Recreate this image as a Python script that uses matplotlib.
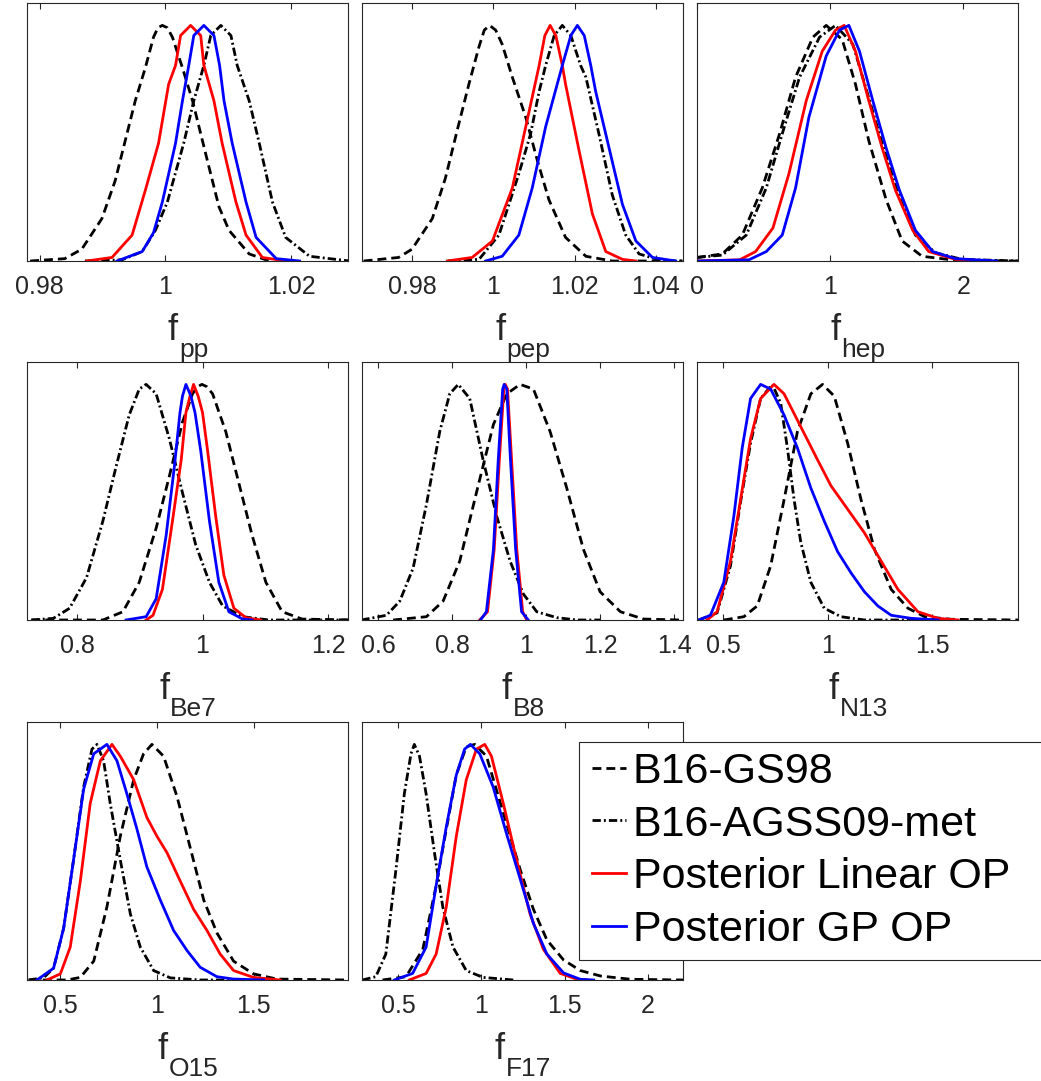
import matplotlib
matplotlib.use('Agg')
import matplotlib.pyplot as plt
from matplotlib.lines import Line2D
from matplotlib.patches import Rectangle
from matplotlib.ticker import FormatStrFormatter

plt.rcParams['font.family'] = ['Liberation Sans', 'DejaVu Sans']

# ---- f_pp ----
PP_GS98_X = [0.9785, 0.9840, 0.9867, 0.9899, 0.9920, 0.9952, 0.9968, 0.9981, 0.9988, 0.9995, 1.0003, 1.0011, 1.0027, 1.0043, 1.0069, 1.0085, 1.0101, 1.0133, 1.0165]
PP_GS98_Y = [0, 0.01, 0.05, 0.18, 0.34, 0.68, 0.82, 0.95, 0.99, 1.0, 0.99, 0.95, 0.82, 0.68, 0.40, 0.23, 0.13, 0.03, 0]
PP_AGS_X = [0.9872, 0.9931, 0.9963, 0.9984, 1.0003, 1.0029, 1.0045, 1.0061, 1.0072, 1.0088, 1.0104, 1.0114, 1.0133, 1.0149, 1.0170, 1.0191, 1.0229, 1.0293]
PP_AGS_Y = [0, 0.005, 0.04, 0.13, 0.25, 0.50, 0.68, 0.83, 0.957, 1.0, 0.957, 0.83, 0.68, 0.50, 0.25, 0.10, 0.02, 0]
PP_LIN_X = [0.9875, 0.9915, 0.9947, 0.9968, 0.9989, 1.0005, 1.0016, 1.0024, 1.0040, 1.0056, 1.0061, 1.0077, 1.0090, 1.0112, 1.0128, 1.0154, 1.0191]
PP_LIN_Y = [0, 0.015, 0.11, 0.30, 0.50, 0.75, 0.83, 0.957, 1.0, 0.957, 0.83, 0.68, 0.50, 0.25, 0.11, 0.015, 0]
PP_GP_X = [0.9923, 0.9963, 0.9981, 0.9995, 1.0016, 1.0027, 1.0037, 1.0045, 1.0061, 1.0077, 1.0086, 1.0093, 1.0106, 1.0128, 1.0144, 1.0176, 1.0213]
PP_GP_Y = [0, 0.04, 0.12, 0.25, 0.50, 0.68, 0.83, 0.957, 1.0, 0.957, 0.83, 0.68, 0.50, 0.25, 0.10, 0.01, 0]

# ---- f_pep ----
PEP_GS98_X = [0.9681, 0.9767, 0.9800, 0.9850, 0.9882, 0.9915, 0.9940, 0.9965, 0.9978, 0.9991, 1.0006, 1.0022, 1.0047, 1.0080, 1.0108, 1.0137, 1.0178, 1.0228, 1.0293, 1.0466]
PEP_GS98_Y = [0, 0.015, 0.05, 0.18, 0.35, 0.58, 0.75, 0.91, 0.98, 1.0, 0.98, 0.92, 0.78, 0.61, 0.43, 0.26, 0.10, 0.02, 0, 0]
PEP_AGS_X = [0.9887, 0.9965, 1.0014, 1.0063, 1.0092, 1.0113, 1.0129, 1.0150, 1.0170, 1.0191, 1.0215, 1.0228, 1.0260, 1.0293, 1.0326, 1.0359, 1.0417, 1.0466]
PEP_AGS_Y = [0, 0.007, 0.11, 0.37, 0.54, 0.72, 0.83, 0.957, 1.0, 0.957, 0.83, 0.78, 0.54, 0.28, 0.11, 0.03, 0, 0]
PEP_LIN_X = [0.9887, 0.9948, 0.9998, 1.0047, 1.0080, 1.0113, 1.0127, 1.0140, 1.0154, 1.0170, 1.0178, 1.0211, 1.0244, 1.0277, 1.0318, 1.0351]
PEP_LIN_Y = [0, 0.015, 0.085, 0.31, 0.57, 0.83, 0.957, 1.0, 0.957, 0.83, 0.75, 0.47, 0.20, 0.04, 0.007, 0]
PEP_GP_X = [0.9981, 1.0022, 1.0063, 1.0096, 1.0129, 1.0170, 1.0191, 1.0207, 1.0224, 1.0240, 1.0252, 1.0285, 1.0318, 1.0351, 1.0392, 1.0449]
PEP_GP_Y = [0, 0.02, 0.11, 0.31, 0.57, 0.83, 0.957, 1.0, 0.957, 0.83, 0.72, 0.48, 0.24, 0.085, 0.015, 0]

# ---- f_hep ----
HEP_GS98_X = [0.0, 0.19, 0.34, 0.49, 0.62, 0.74, 0.87, 0.97, 1.09, 1.19, 1.29, 1.42, 1.54, 1.69, 1.94, 2.41]
HEP_GS98_Y = [0.015, 0.03, 0.11, 0.31, 0.54, 0.78, 0.95, 1.0, 0.94, 0.75, 0.51, 0.26, 0.085, 0.02, 0.003, 0]
HEP_AGS_X = [0.0, 0.19, 0.37, 0.52, 0.64, 0.77, 0.92, 1.04, 1.17, 1.27, 1.39, 1.52, 1.64, 1.79, 1.99, 2.41]
HEP_AGS_Y = [0.015, 0.025, 0.11, 0.31, 0.54, 0.78, 0.95, 1.0, 0.92, 0.73, 0.50, 0.27, 0.11, 0.035, 0.007, 0]
HEP_LIN_X = [0.0, 0.32, 0.44, 0.57, 0.69, 0.82, 0.94, 1.04, 1.105, 1.19, 1.29, 1.39, 1.49, 1.62, 1.74, 1.94, 2.20]
HEP_LIN_Y = [0, 0.005, 0.04, 0.14, 0.37, 0.68, 0.89, 0.98, 1.0, 0.89, 0.68, 0.48, 0.30, 0.13, 0.04, 0.007, 0]
HEP_GP_X = [0.0, 0.39, 0.52, 0.64, 0.74, 0.84, 0.97, 1.07, 1.14, 1.22, 1.32, 1.42, 1.52, 1.64, 1.77, 1.94, 2.25]
HEP_GP_Y = [0, 0.005, 0.04, 0.11, 0.31, 0.61, 0.87, 0.98, 1.0, 0.89, 0.68, 0.48, 0.30, 0.13, 0.04, 0.01, 0]

# ---- f_Be7 ----
BE7_GS98_X = [0.727, 0.841, 0.873, 0.899, 0.926, 0.947, 0.968, 0.984, 0.992, 0.999, 1.007, 1.016, 1.037, 1.058, 1.079, 1.101, 1.127, 1.159, 1.233]
BE7_GS98_Y = [0, 0, 0.035, 0.16, 0.39, 0.61, 0.84, 0.96, 0.99, 1.0, 0.99, 0.96, 0.80, 0.58, 0.36, 0.16, 0.035, 0.004, 0]
BE7_AGS_X = [0.727, 0.762, 0.788, 0.815, 0.841, 0.862, 0.883, 0.899, 0.910, 0.926, 0.947, 0.968, 0.989, 1.011, 1.032, 1.064, 1.106, 1.233]
BE7_AGS_Y = [0, 0.007, 0.05, 0.18, 0.42, 0.65, 0.87, 0.98, 1.0, 0.96, 0.77, 0.54, 0.32, 0.16, 0.06, 0.014, 0, 0]
BE7_LIN_X = [0.910, 0.921, 0.936, 0.952, 0.966, 0.9735, 0.980, 0.9857, 0.993, 1.000, 1.008, 1.021, 1.034, 1.050, 1.069, 1.093]
BE7_LIN_Y = [0, 0.02, 0.13, 0.42, 0.68, 0.88, 0.95, 1.0, 0.95, 0.88, 0.72, 0.44, 0.19, 0.05, 0.01, 0]
BE7_GP_X = [0.878, 0.910, 0.926, 0.942, 0.955, 0.964, 0.968, 0.9735, 0.9815, 0.988, 0.997, 1.011, 1.026, 1.042, 1.064, 1.079]
BE7_GP_Y = [0, 0.014, 0.09, 0.36, 0.65, 0.88, 0.95, 1.0, 0.95, 0.88, 0.72, 0.42, 0.16, 0.035, 0.004, 0]

# ---- f_B8 ----
B8_GS98_X = [0.641, 0.731, 0.776, 0.821, 0.866, 0.912, 0.948, 0.984, 1.020, 1.065, 1.110, 1.155, 1.200, 1.255, 1.318, 1.417]
B8_GS98_Y = [0, 0.014, 0.08, 0.25, 0.54, 0.83, 0.96, 1.0, 0.98, 0.80, 0.56, 0.30, 0.12, 0.035, 0.004, 0]
B8_AGS_X = [0.555, 0.623, 0.659, 0.695, 0.731, 0.767, 0.794, 0.817, 0.848, 0.884, 0.921, 0.957, 0.993, 1.029, 1.083, 1.137, 1.200]
B8_AGS_Y = [0, 0.02, 0.08, 0.22, 0.49, 0.80, 0.96, 1.0, 0.94, 0.68, 0.44, 0.25, 0.11, 0.035, 0.01, 0, 0]
B8_LIN_X = [0.875, 0.896, 0.914, 0.928, 0.940, 0.944, 0.950, 0.961, 0.975, 0.991, 1.002]
B8_LIN_Y = [0, 0.035, 0.30, 0.68, 0.98, 1.0, 0.98, 0.68, 0.30, 0.035, 0]
B8_GP_X = [0.877, 0.893, 0.912, 0.925, 0.937, 0.941, 0.948, 0.958, 0.972, 0.988, 1.006]
B8_GP_Y = [0, 0.035, 0.30, 0.68, 0.98, 1.0, 0.98, 0.68, 0.30, 0.035, 0]

# ---- f_N13 ----
N13_GS98_X = [0.504, 0.600, 0.664, 0.728, 0.792, 0.856, 0.920, 0.976, 1.032, 1.096, 1.160, 1.224, 1.304, 1.384, 1.464, 1.592, 1.920]
N13_GS98_Y = [0, 0.014, 0.06, 0.23, 0.51, 0.80, 0.96, 1.0, 0.95, 0.75, 0.51, 0.30, 0.13, 0.05, 0.014, 0.003, 0]
N13_AGS_X = [0.384, 0.472, 0.536, 0.584, 0.632, 0.680, 0.736, 0.776, 0.808, 0.840, 0.872, 0.920, 0.984, 1.064, 1.176, 1.500]
N13_AGS_Y = [0, 0.03, 0.23, 0.50, 0.75, 0.94, 1.0, 0.92, 0.73, 0.51, 0.33, 0.16, 0.05, 0.014, 0, 0]
N13_LIN_X = [0.424, 0.472, 0.536, 0.584, 0.632, 0.680, 0.744, 0.792, 0.872, 0.952, 1.016, 1.096, 1.176, 1.256, 1.336, 1.432, 1.528, 1.624]
N13_LIN_Y = [0, 0.035, 0.25, 0.51, 0.77, 0.94, 1.0, 0.96, 0.82, 0.68, 0.57, 0.47, 0.37, 0.25, 0.13, 0.035, 0.007, 0]
N13_GP_X = [0.384, 0.440, 0.504, 0.552, 0.592, 0.632, 0.680, 0.728, 0.792, 0.856, 0.920, 0.984, 1.048, 1.112, 1.176, 1.240, 1.304, 1.400, 1.528]
N13_GP_Y = [0, 0.02, 0.16, 0.44, 0.73, 0.94, 1.0, 0.98, 0.87, 0.73, 0.56, 0.42, 0.29, 0.20, 0.12, 0.06, 0.02, 0.007, 0]

# ---- f_O15 ----
O15_GS98_X = [0.340, 0.536, 0.605, 0.674, 0.742, 0.811, 0.880, 0.931, 0.974, 1.034, 1.103, 1.172, 1.241, 1.309, 1.395, 1.498, 1.619, 1.979]
O15_GS98_Y = [0, 0, 0.011, 0.08, 0.31, 0.61, 0.85, 0.96, 1.0, 0.95, 0.78, 0.56, 0.34, 0.20, 0.08, 0.026, 0.004, 0]
O15_AGS_X = [0.338, 0.416, 0.467, 0.519, 0.570, 0.622, 0.665, 0.691, 0.725, 0.759, 0.811, 0.863, 0.914, 0.983, 1.069, 1.223, 1.412]
O15_AGS_Y = [0, 0.01, 0.05, 0.22, 0.51, 0.82, 0.98, 1.0, 0.93, 0.75, 0.51, 0.28, 0.14, 0.04, 0.009, 0, 0]
O15_LIN_X = [0.433, 0.502, 0.553, 0.605, 0.656, 0.708, 0.768, 0.811, 0.880, 0.948, 1.000, 1.052, 1.120, 1.189, 1.258, 1.326, 1.395, 1.498, 1.636]
O15_LIN_Y = [0, 0.026, 0.14, 0.42, 0.75, 0.93, 1.0, 0.95, 0.85, 0.69, 0.61, 0.54, 0.42, 0.30, 0.21, 0.11, 0.04, 0.011, 0]
O15_GP_X = [0.381, 0.467, 0.519, 0.570, 0.622, 0.674, 0.742, 0.794, 0.845, 0.897, 0.948, 1.017, 1.086, 1.155, 1.223, 1.309, 1.395, 1.550]
O15_GP_Y = [0, 0.05, 0.22, 0.51, 0.81, 0.96, 1.0, 0.93, 0.79, 0.64, 0.48, 0.34, 0.21, 0.125, 0.054, 0.014, 0.004, 0]

# ---- f_F17 ----
F17_GS98_X = [0.406, 0.547, 0.648, 0.728, 0.789, 0.849, 0.909, 0.960, 1.030, 1.131, 1.232, 1.312, 1.393, 1.493, 1.594, 1.715, 1.896, 2.218]
F17_GS98_Y = [0, 0.014, 0.13, 0.40, 0.64, 0.87, 0.99, 1.0, 0.95, 0.71, 0.47, 0.30, 0.17, 0.085, 0.04, 0.017, 0.003, 0]
F17_AGS_X = [0.285, 0.366, 0.426, 0.487, 0.537, 0.577, 0.597, 0.628, 0.668, 0.718, 0.768, 0.829, 0.909, 1.010, 1.191]
F17_AGS_Y = [0, 0.014, 0.11, 0.47, 0.79, 0.96, 1.0, 0.95, 0.79, 0.54, 0.31, 0.14, 0.04, 0.011, 0]
F17_LIN_X = [0.567, 0.668, 0.728, 0.789, 0.849, 0.909, 0.970, 1.020, 1.060, 1.131, 1.211, 1.292, 1.372, 1.473, 1.574, 1.634]
F17_LIN_Y = [0, 0.028, 0.11, 0.31, 0.61, 0.85, 0.98, 1.0, 0.95, 0.75, 0.51, 0.28, 0.13, 0.028, 0.003, 0]
F17_GP_X = [0.477, 0.587, 0.668, 0.728, 0.789, 0.849, 0.899, 0.934, 0.990, 1.070, 1.151, 1.232, 1.312, 1.393, 1.493, 1.594, 1.674]
F17_GP_Y = [0, 0.028, 0.14, 0.40, 0.65, 0.87, 0.98, 1.0, 0.96, 0.82, 0.62, 0.43, 0.24, 0.11, 0.03, 0.003, 0]

SERIES_NAMES = ['B16-GS98', 'B16-AGSS09-met', 'Posterior Linear OP', 'Posterior GP OP']

# (subscript, xlim, xticks, curves in legend order)
panels = [
    ('pp', (0.978, 1.029), [0.98, 1, 1.02],
     [(PP_GS98_X, PP_GS98_Y), (PP_AGS_X, PP_AGS_Y), (PP_LIN_X, PP_LIN_Y), (PP_GP_X, PP_GP_Y)]),
    ('pep', (0.9677, 1.0467), [0.98, 1, 1.02, 1.04],
     [(PEP_GS98_X, PEP_GS98_Y), (PEP_AGS_X, PEP_AGS_Y), (PEP_LIN_X, PEP_LIN_Y), (PEP_GP_X, PEP_GP_Y)]),
    ('hep', (0.0, 2.41), [0, 1, 2],
     [(HEP_GS98_X, HEP_GS98_Y), (HEP_AGS_X, HEP_AGS_Y), (HEP_LIN_X, HEP_LIN_Y), (HEP_GP_X, HEP_GP_Y)]),
    ('Be7', (0.72, 1.232), [0.8, 1, 1.2],
     [(BE7_GS98_X, BE7_GS98_Y), (BE7_AGS_X, BE7_AGS_Y), (BE7_LIN_X, BE7_LIN_Y), (BE7_GP_X, BE7_GP_Y)]),
    ('B8', (0.557, 1.424), [0.6, 0.8, 1, 1.2, 1.4],
     [(B8_GS98_X, B8_GS98_Y), (B8_AGS_X, B8_AGS_Y), (B8_LIN_X, B8_LIN_Y), (B8_GP_X, B8_GP_Y)]),
    ('N13', (0.376, 1.91), [0.5, 1, 1.5],
     [(N13_GS98_X, N13_GS98_Y), (N13_AGS_X, N13_AGS_Y), (N13_LIN_X, N13_LIN_Y), (N13_GP_X, N13_GP_Y)]),
    ('O15', (0.33, 1.985), [0.5, 1, 1.5],
     [(O15_GS98_X, O15_GS98_Y), (O15_AGS_X, O15_AGS_Y), (O15_LIN_X, O15_LIN_Y), (O15_GP_X, O15_GP_Y)]),
    ('F17', (0.283, 2.21), [0.5, 1, 1.5, 2],
     [(F17_GS98_X, F17_GS98_Y), (F17_AGS_X, F17_AGS_Y), (F17_LIN_X, F17_LIN_Y), (F17_GP_X, F17_GP_Y)]),
]

# line styles for GS98, AGSS09, linear, GP
styles = [
    dict(color='black', linestyle=(0, (3.2, 1.8))),
    dict(color='black', linestyle=(0, (3.0, 1.1, 0.7, 1.1))),
    dict(color='red', linestyle='-'),
    dict(color='blue', linestyle='-'),
]
LW = 2.0

W, H = 1041, 1081
fig = plt.figure(figsize=(W / 100, H / 100), dpi=100)
renderer = fig.canvas.get_renderer()

col_left = [27, 362, 697]
row_top = [3, 362, 722]
ax_w, ax_h = 321, 258
axis_gray = '#262626'

for i, (sub, xlim, xticks, curves) in enumerate(panels):
    r, c = divmod(i, 3)
    ax = fig.add_axes([col_left[c] / W, 1 - (row_top[r] + ax_h) / H, ax_w / W, ax_h / H])
    for (xs, ys), st in zip(curves, styles):
        ax.plot(xs, ys, lw=LW, solid_joinstyle='round', dash_joinstyle='round', **st)
    ax.set_xlim(*xlim)
    ax.set_ylim(0, 1.095)
    ax.set_yticks([])
    ax.set_xticks(xticks)
    ax.xaxis.set_major_formatter(FormatStrFormatter('%g'))
    ax.tick_params(axis='x', direction='in', top=True, length=4, width=0.8,
                   color=axis_gray, labelsize=18, labelcolor=axis_gray, pad=10)
    for sp in ax.spines.values():
        sp.set_color(axis_gray)
        sp.set_linewidth(0.8)

    # x label: "f" with a low subscript, centred under the axes
    ft = ax.text(0, 0, 'f', fontsize=26, color=axis_gray, transform=ax.transAxes)
    st_ = ax.text(0, 0, sub, fontsize=19, color=axis_gray, transform=ax.transAxes)
    wf = ft.get_window_extent(renderer).width
    ws = st_.get_window_extent(renderer).width
    x0 = 0.5 - (wf + ws) / 2 / ax_w
    ft.set_position((x0, -79 / ax_h))
    st_.set_position((x0 + (wf + 1) / ax_w, -96 / ax_h))
    ft.set_va('baseline')
    st_.set_va('baseline')

# legend box runs off the right edge of the figure, as in the original
fig.patches.append(Rectangle((579 / W, 1 - 960 / H), 500 / W, 218 / H,
                             transform=fig.transFigure, facecolor='white',
                             edgecolor=axis_gray, linewidth=0.8, zorder=4))
handles = [Line2D([], [], lw=LW, **st) for st in styles]
leg = fig.legend(handles, SERIES_NAMES, loc='center left',
                 bbox_to_anchor=(579 / W, 1 - 851 / H), bbox_transform=fig.transFigure,
                 fontsize=31, frameon=False, handlelength=0.8, handletextpad=0.15,
                 labelspacing=0.30, borderpad=0.3, borderaxespad=0)
leg.set_zorder(5)

fig.savefig('out.png', dpi=100)
